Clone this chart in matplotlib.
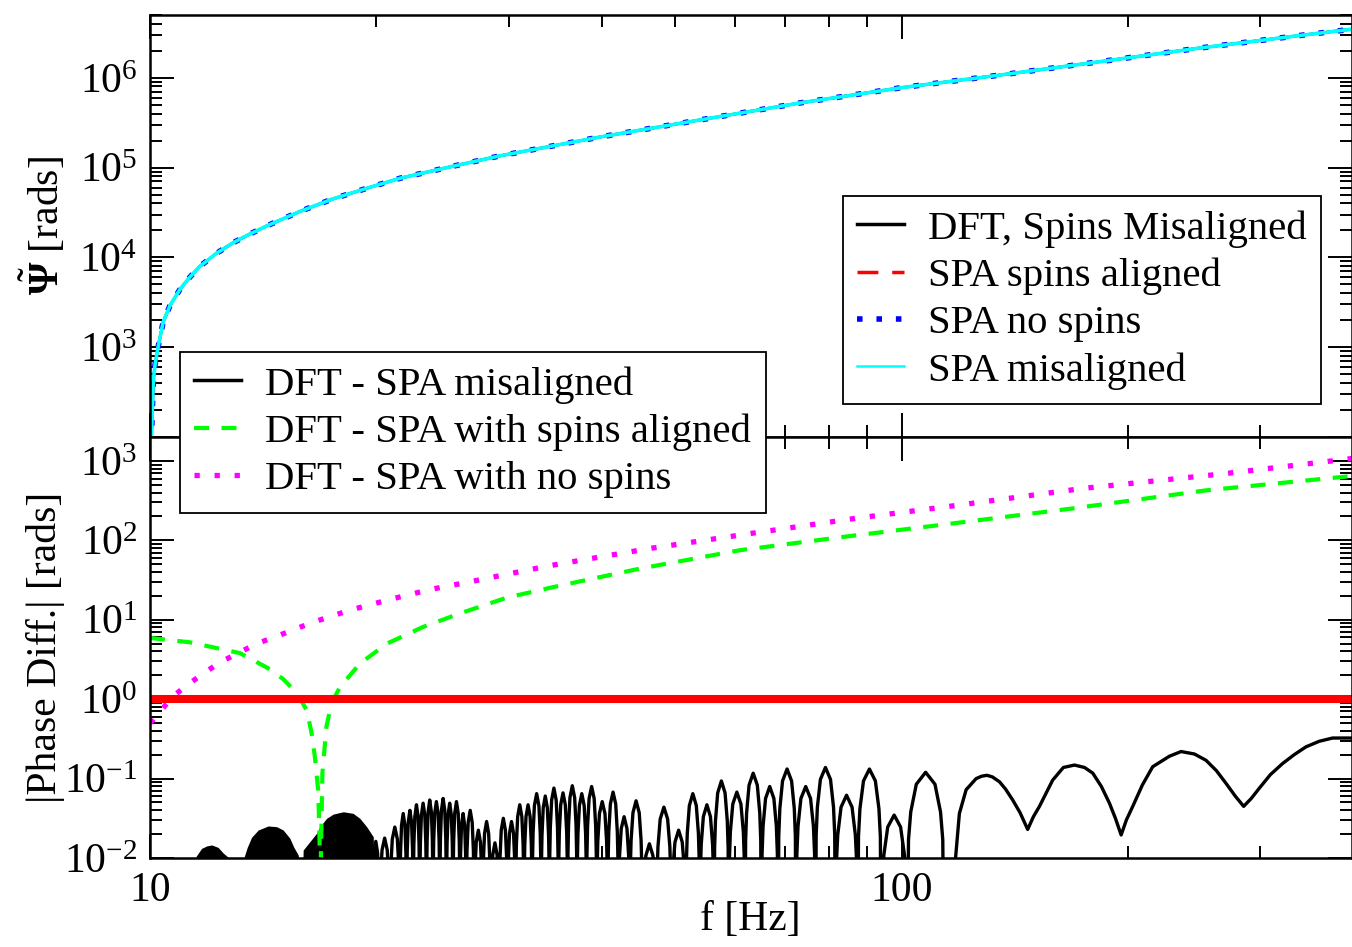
import numpy as np
import matplotlib
matplotlib.use("Agg")
import matplotlib.pyplot as plt
from matplotlib.ticker import FixedLocator, LogLocator, NullFormatter
from matplotlib.lines import Line2D

plt.rcParams['font.family'] = ['Liberation Serif', 'DejaVu Serif']
plt.rcParams['mathtext.fontset'] = 'custom'
plt.rcParams['mathtext.rm'] = 'Liberation Serif'
plt.rcParams['mathtext.it'] = 'Liberation Serif:italic'
plt.rcParams['mathtext.bf'] = 'Liberation Serif:bold'
plt.rcParams['mathtext.default'] = 'rm'

# ---- top panel: accumulated phase ----
psi_f = [10.01, 10.05, 10.10, 10.15, 10.25, 10.41, 10.63, 10.96, 11.30, 11.65, 12.24,
         12.89, 13.58, 14.30, 15.82, 17.50, 19.44, 21.49, 25.1, 29.2, 39.7, 53.9,
         73.3, 100, 135, 183.5, 249, 338, 397]
psi_dft = [30, 1.15e2, 4.1e2, 6.2e2, 1.0e3, 1.9e3, 2.9e3, 4.4e3, 6.03e3, 7.94e3, 1.10e4,
           1.45e4, 1.82e4, 2.24e4, 3.24e4, 4.47e4, 5.89e4, 7.59e4, 1.02e5, 1.35e5,
           2.19e5, 3.39e5, 5.25e5, 7.76e5, 1.07e6, 1.51e6, 2.14e6, 2.95e6, 3.47e6]
# the three SPA curves lie on top of the DFT one at this scale
psi_aligned = psi_dft
psi_nospin = psi_dft
psi_misaligned = psi_dft

# ---- bottom panel: phase differences ----
green_f = [10.0, 11.30, 13.17, 14.31, 15.03, 15.69, 16.17, 16.41, 16.57, 16.74, 16.79,
           16.83, 16.85, 16.96, 17.17, 17.44, 17.89, 19.02, 20.66, 23.07, 25.84, 29.85,
           34.35, 44.84, 60.91, 82.71, 116.9, 168.8, 254.4, 397]
green_v = [5.9, 5.2, 3.8, 2.5, 1.8, 1.19, 0.72, 0.37, 0.19, 0.072, 0.028,
           0.0103, 0.004, 0.117, 0.45, 0.89, 1.41, 2.8, 5.0, 8.1, 12, 19,
           25.7, 44, 75, 109, 163, 252, 426, 645]

magenta_f = [10.0, 10.31, 10.70, 11.20, 11.77, 12.39, 13.17, 13.87, 14.75, 16.47, 18.45,
             20.85, 23.57, 26.64, 30.11, 34.03, 46.24, 63.38, 87.14, 118.3, 174.1,
             270.6, 397]
magenta_v = [0.5, 0.69, 1.06, 1.5, 2.1, 2.9, 3.9, 5.0, 6.2, 9.3, 13.2,
             18, 24, 30, 38, 48, 79, 123, 190, 275, 450, 695, 1070]

threshold = 1.0

# dense oscillation region, seen as solid black blobs (upper outline)
blob_f = [11.45, 11.51, 11.71, 11.90, 12.08, 12.32, 12.52, 12.71, 12.78,
          13.30, 13.34, 13.47, 13.65, 13.93, 14.36, 14.74, 15.04, 15.35, 15.54, 15.75, 15.82,
          15.95, 15.99, 16.66, 16.83, 17.18, 17.53, 18.08, 18.63, 19.02, 19.42, 19.82, 19.86]
blob_v = [0.005, 0.0104, 0.0132, 0.0142, 0.0146, 0.0136, 0.0115, 0.0102, 0.005,
          0.005, 0.0102, 0.0136, 0.0182, 0.0225, 0.0253, 0.0248, 0.0225, 0.0177, 0.0136, 0.0109, 0.005,
          0.005, 0.0126, 0.0205, 0.0248, 0.0316, 0.0357, 0.0382, 0.0365, 0.0316, 0.0248, 0.0185, 0.005]

# resolved arches: heights of the tops and the zeros between them
arch_v = [0.0162, 0.0178, 0.0245, 0.0363, 0.0398, 0.0468, 0.049, 0.0537, 0.0513, 0.0562, 0.049,
          0.0513, 0.0363, 0.0398, 0.0224, 0.0288, 0.0155, 0.0316, 0.0288, 0.0468, 0.0468, 0.0646,
          0.0603, 0.0759, 0.0661, 0.0813, 0.0646, 0.0794, 0.0513, 0.0676, 0.0331, 0.0525, 0.0151,
          0.0437, 0.0224, 0.0646, 0.0468, 0.0933, 0.0676, 0.117, 0.0794, 0.132, 0.0794, 0.138,
          0.0617, 0.132, 0.0347, 0.120]
node_f = [19.75, 20.2, 20.85, 21.5, 21.95, 22.4, 22.85, 23.33, 23.8, 24.3, 24.8, 25.3,
          25.85, 26.35, 27.0, 27.7, 28.4, 29.15, 29.9, 30.65, 31.45, 32.25, 33.15, 34.0,
          34.95, 35.95, 37.0, 38.1, 39.3, 40.65, 42.0, 43.5, 45.2, 47.2, 49.4, 51.65,
          53.9, 56.3, 58.9, 61.9, 65.1, 68.5, 72.4, 76.8, 81.7, 87.4, 94.0, 101.7, 114.0]
# dome outline of one arch as seen in the figure: position across the arch,
# and how many decades it sits below the top
dome_pos = [0.0, 0.04, 0.1, 0.25, 0.5, 0.75, 0.9, 0.96, 1.0]
dome_drop = [3.0, 0.85, 0.5, 0.15, 0.0, 0.15, 0.5, 0.85, 3.0]

# broad lobes at high frequency
lobe_f = [116.5, 118.0, 119.4, 121.9, 125.7, 127.8, 129.9, 132.1, 135.0, 137.5, 140.6,
          143.8, 147.2, 149.8, 152.6, 158.9, 164.2, 169.9, 175.2, 179.7, 184.5, 189.1,
          192.6, 196.0, 199.2, 203.1, 209.2, 215.9, 227.2, 235.5, 245.3, 254.2, 262.4,
          270.3, 278.0, 285.3, 292.0, 299.4, 309.6, 321.5, 333.1, 345.3, 359.7, 374.6, 396.6]
lobe_v = [0.004, 0.0099, 0.0363, 0.0724, 0.100, 0.107, 0.110, 0.105, 0.0912, 0.0741, 0.0537,
          0.0372, 0.0229, 0.0331, 0.0447, 0.0955, 0.138, 0.148, 0.138, 0.117, 0.0794, 0.049,
          0.0316, 0.0195, 0.0302, 0.0447, 0.0832, 0.141, 0.191, 0.219, 0.204, 0.170, 0.126,
          0.087, 0.0603, 0.0447, 0.0562, 0.0759, 0.112, 0.155, 0.200, 0.251, 0.295, 0.324, 0.324]

black_f, black_v = [], []
lg = np.log10(node_f)
for i, top in enumerate(arch_v):
    for p, d in zip(dome_pos, dome_drop):
        black_f.append(10 ** (lg[i] + p * (lg[i + 1] - lg[i])))
        black_v.append(top * 10 ** (-d))
black_f += lobe_f
black_v += lobe_v

# ---- figure ----
W, H = 1352, 947
fig = plt.figure(figsize=(W / 100, H / 100), dpi=100)
left, right = 150 / W, 1351.5 / W
ax1 = fig.add_axes([left, 1 - 437 / H, right - left, (437 - 15) / H])
ax2 = fig.add_axes([left, 1 - 858 / H, right - left, (858 - 437) / H])

ax1.plot(psi_f, psi_dft, color='black', lw=2)
ax1.plot(psi_f, psi_aligned, color='red', lw=2, dashes=(6, 4))
ax1.plot(psi_f, psi_nospin, color='blue', lw=4, dashes=(1, 2.5))
ax1.plot(psi_f, psi_misaligned, color='cyan', lw=2.6)
ax1.set_ylim(1e2, 5e6)

ax2.fill_between(blob_f, blob_v, 1e-4, color='black', lw=0)
ax2.plot(black_f, black_v, color='black', lw=2.4)
ax2.plot(green_f, green_v, color='#00ff00', lw=3, dashes=(3.6, 3))
ax2.plot(magenta_f, magenta_v, color='magenta', lw=3.8, dashes=(1, 2.8))
ax2.axhline(threshold, color='red', lw=5.8)
ax2.set_ylim(1e-2, 2e3)

for ax in (ax1, ax2):
    ax.set_xscale('log')
    ax.set_yscale('log')
    ax.set_xlim(10, 397)
    ax.xaxis.set_major_locator(FixedLocator([10, 100]))
    ax.xaxis.set_minor_locator(FixedLocator([20, 30, 40, 50, 60, 70, 80, 90, 200, 300]))
    ax.xaxis.set_minor_formatter(NullFormatter())
    ax.yaxis.set_minor_locator(LogLocator(base=10, subs=np.arange(2, 10), numticks=30))
    ax.yaxis.set_minor_formatter(NullFormatter())
    ax.tick_params(which='both', direction='in', top=True, right=True, width=1.4)
    ax.tick_params(which='major', length=17, labelsize=30)
    ax.tick_params(axis='y', which='major', pad=9)
    ax.tick_params(axis='x', which='major', pad=10)
    ax.tick_params(which='minor', length=8.5)
    for s in ax.spines.values():
        s.set_linewidth(1.8)

ax1.yaxis.set_major_locator(FixedLocator([1e2, 1e3, 1e4, 1e5, 1e6]))
ax1.set_yticklabels(['', '$10^{3}$', '$10^{4}$', '$10^{5}$', '$10^{6}$'])
ax1.tick_params(labelbottom=False)
ax2.yaxis.set_major_locator(FixedLocator([1e-2, 1e-1, 1, 10, 1e2, 1e3]))
ax2.set_yticklabels(['$10^{-2}$', '$10^{-1}$', '$10^{0}$', '$10^{1}$', '$10^{2}$', '$10^{3}$'])
ax2.set_xticklabels(['10', '100'])

ax1.set_ylabel(r'$\tilde{\mathbf{\Psi}}$ [rads]', fontsize=30)
ax2.set_ylabel('|Phase Diff.| [rads]', fontsize=30)
ax2.set_xlabel('f [Hz]', fontsize=30, labelpad=-7)
ax1.yaxis.set_label_coords(-0.068, 0.5)
ax2.yaxis.set_label_coords(-0.071, 0.5)

leg_kw = dict(loc='upper left', borderaxespad=0, fancybox=False, edgecolor='black',
              framealpha=1, fontsize=29.3, handlelength=1.15, handletextpad=0.6,
              labelspacing=0.24, borderpad=0.35)

h1 = [Line2D([], [], color='black', lw=2.5),
      Line2D([], [], color='red', lw=2.5, dashes=(6, 4)),
      Line2D([], [], color='blue', lw=4, dashes=(1, 2.5)),
      Line2D([], [], color='cyan', lw=1.8)]
leg1 = fig.legend(h1, ['DFT, Spins Misaligned', 'SPA spins aligned', 'SPA no spins',
                       'SPA misaligned'], bbox_to_anchor=(843 / W, 1 - 196 / H), **leg_kw)
leg1.get_frame().set_linewidth(1.3)

h2 = [Line2D([], [], color='black', lw=2.5),
      Line2D([], [], color='#00ff00', lw=3, dashes=(3.6, 3)),
      Line2D([], [], color='magenta', lw=3.8, dashes=(1, 2.8))]
leg2 = fig.legend(h2, ['DFT - SPA misaligned', 'DFT - SPA with spins aligned',
                       'DFT - SPA with no spins'], bbox_to_anchor=(180 / W, 1 - 352 / H), **leg_kw)
leg2.get_frame().set_linewidth(1.3)

fig.savefig('out.png', dpi=100)
